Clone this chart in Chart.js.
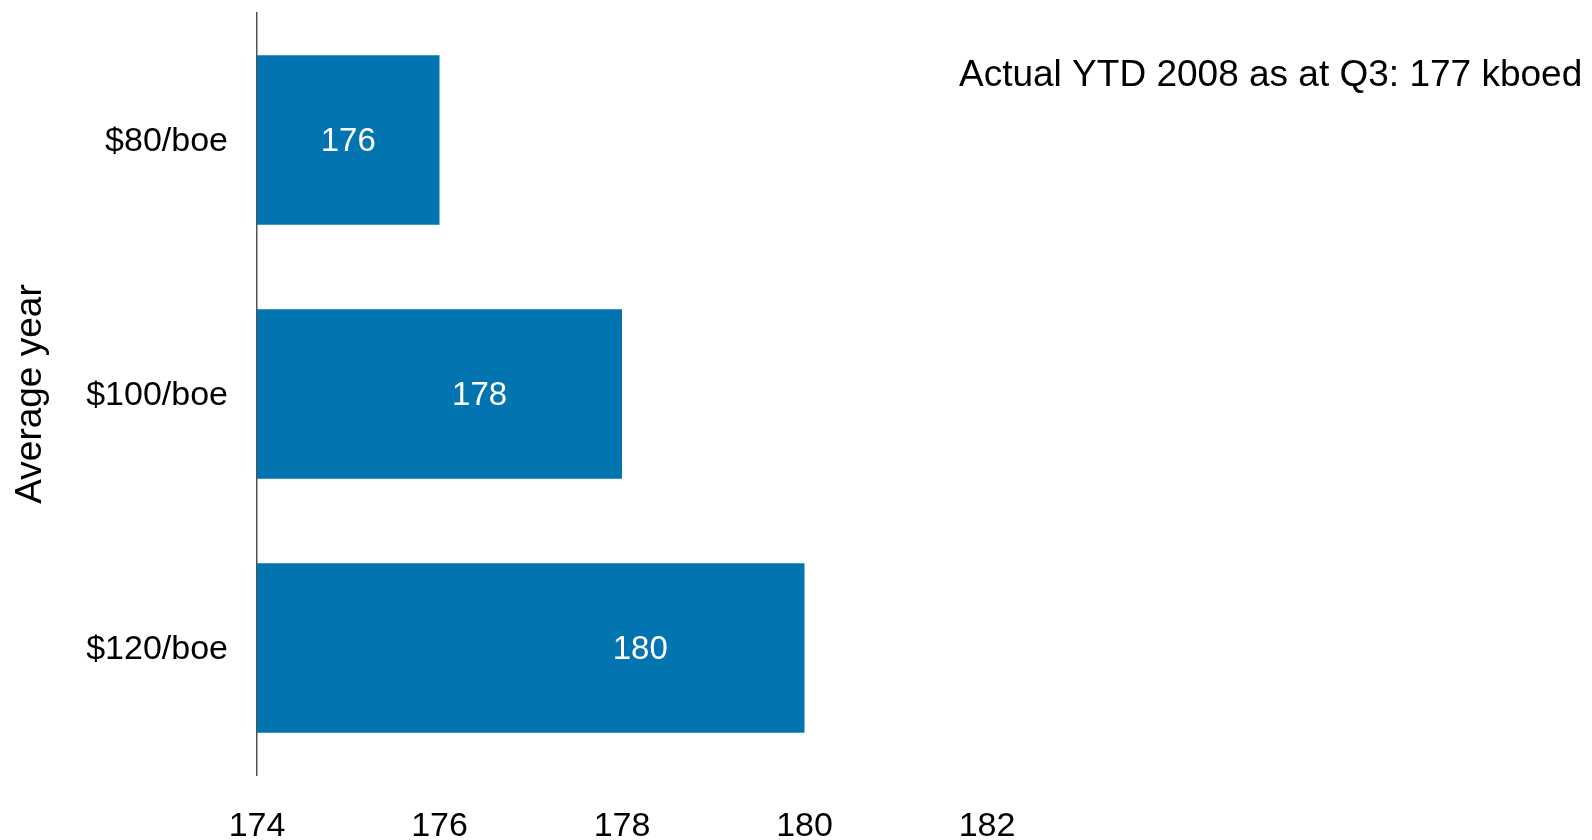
<!DOCTYPE html>
<html>
<head>
<meta charset="utf-8">
<script src="https://cdn.jsdelivr.net/npm/chart.js@4/dist/chart.umd.min.js"></script>
<style>
  html, body { margin:0; padding:0; background:#fff; }
  #wrap { width:1592px; height:840px; }
</style>
</head>
<body>
<div id="wrap"><canvas id="prodChart" width="1592" height="840"></canvas></div>
<script>
const categories = ['$80/boe', '$100/boe', '$120/boe'];
const production = [176, 178, 180];
const xTicks = [174, 176, 178, 180, 182];
const axisTitle = 'Average year';
const note = 'Actual YTD 2008 as at Q3: 177 kboed';

const FONT = "'Liberation Sans', Arial, sans-serif";
const BLUE = '#0275B1';

// value labels sit inside the bars, at these fractions of each bar's length
const labelFrac = [0.5, 0.61, 0.70];

const barLabels = {
  id: 'barLabels',
  afterDatasetsDraw(chart) {
    const ctx = chart.ctx;
    const xs = chart.scales.x;
    const meta = chart.getDatasetMeta(0);
    ctx.save();
    ctx.fillStyle = '#fff';
    ctx.font = '33px ' + FONT;
    ctx.textAlign = 'center';
    ctx.textBaseline = 'middle';
    meta.data.forEach((bar, i) => {
      const v = xs.min + (production[i] - xs.min) * labelFrac[i];
      ctx.fillText(String(production[i]), xs.getPixelForValue(v), bar.y + 2);
    });
    ctx.restore();
  }
};

const noteText = {
  id: 'noteText',
  afterDraw(chart) {
    const ctx = chart.ctx;
    ctx.save();
    ctx.fillStyle = '#000';
    ctx.font = '37px ' + FONT;
    ctx.textAlign = 'left';
    ctx.textBaseline = 'middle';
    ctx.fillText(note, 959, 76);
    ctx.restore();
  }
};

new Chart(document.getElementById('prodChart'), {
  type: 'bar',
  data: {
    labels: categories,
    datasets: [{
      data: production,
      backgroundColor: BLUE,
      borderWidth: 0,
      categoryPercentage: 1,
      barPercentage: 0.668
    }]
  },
  options: {
    indexAxis: 'y',
    responsive: false,
    animation: false,
    layout: { padding: { top: 13, right: 605, left: 9, bottom: 0 } },
    plugins: { legend: { display: false }, tooltip: { enabled: false } },
    scales: {
      x: {
        min: 174, max: 182,
        afterBuildTicks: s => { s.ticks = xTicks.map(v => ({ value: v })); },
        grid: { display: false, drawTicks: false },
        border: { display: false },
        ticks: { color: '#000', font: { family: FONT, size: 34 }, padding: 31 },
        afterFit: s => { s.height = 65; s.paddingLeft = 0; }
      },
      y: {
        grid: { display: false, drawTicks: false },
        border: { display: true, color: '#55504b', width: 1.5 },
        ticks: { color: '#000', font: { family: FONT, size: 34 }, padding: 29, labelOffset: 2 },
        title: { display: true, text: axisTitle, color: '#000', font: { family: FONT, size: 37 }, padding: { top: 0, bottom: 0 } },
        afterFit: s => { s.width = 248; s.paddingTop = 0; s.paddingBottom = 0; }
      }
    }
  },
  plugins: [barLabels, noteText]
});
</script>
</body>
</html>
